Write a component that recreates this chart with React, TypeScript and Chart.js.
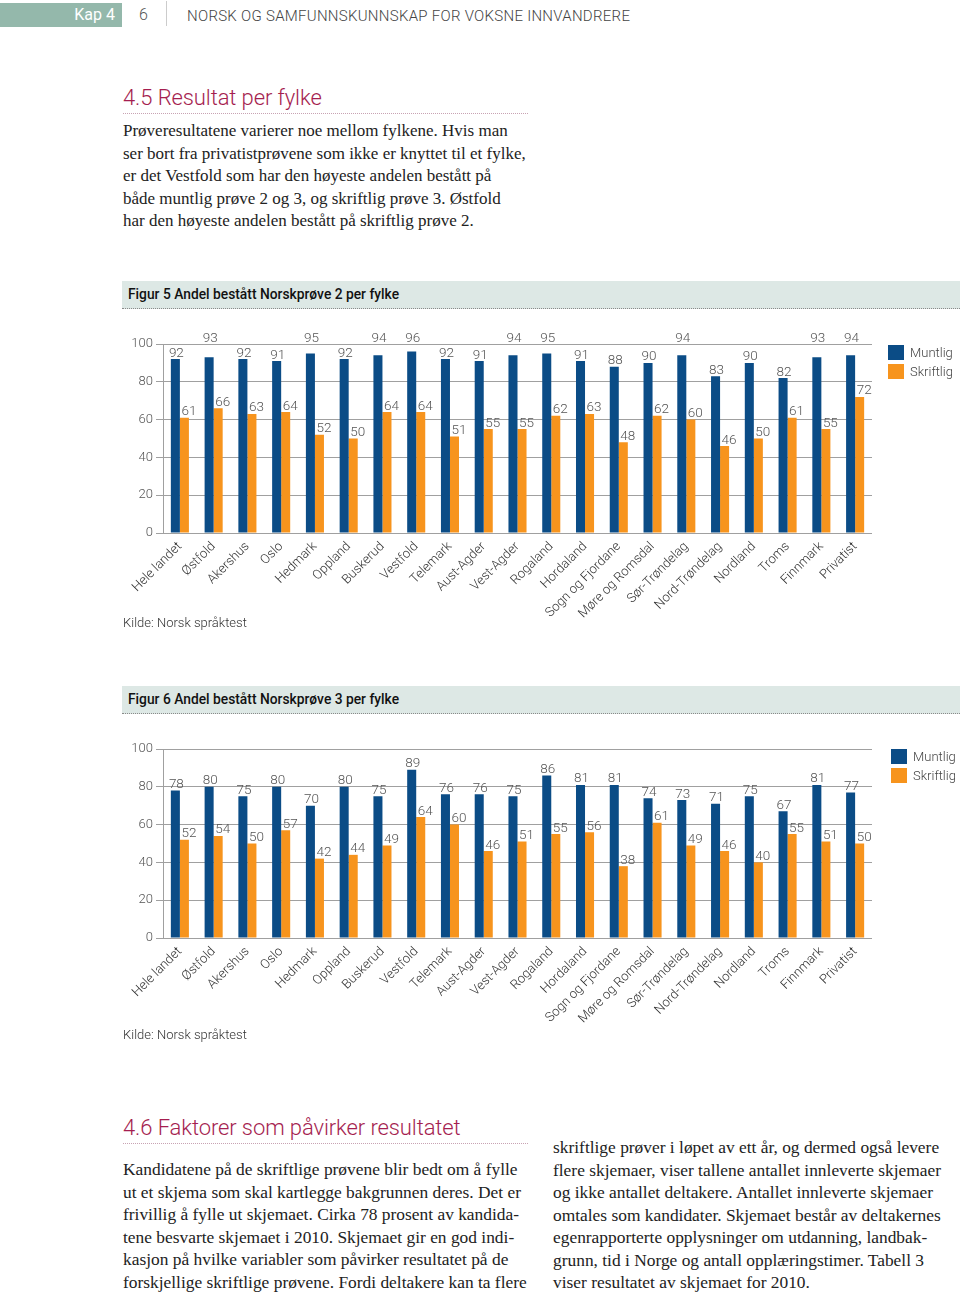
import React, { useEffect, useRef } from "react";
import { Chart, registerables } from "chart.js";

Chart.register(...registerables);

const categories = [
  "Hele landet", "Østfold", "Akershus", "Oslo", "Hedmark", "Oppland", "Buskerud",
  "Vestfold", "Telemark", "Aust-Agder", "Vest-Agder", "Rogaland", "Hordaland",
  "Sogn og Fjordane", "Møre og Romsdal", "Sør-Trøndelag", "Nord-Trøndelag",
  "Nordland", "Troms", "Finnmark", "Privatist",
];

const fig5Muntlig = [92, 93, 92, 91, 95, 92, 94, 96, 92, 91, 94, 95, 91, 88, 90, 94, 83, 90, 82, 93, 94];
const fig5Skriftlig = [61, 66, 63, 64, 52, 50, 64, 64, 51, 55, 55, 62, 63, 48, 62, 60, 46, 50, 61, 55, 72];

const fig6Muntlig = [78, 80, 75, 80, 70, 80, 75, 89, 76, 76, 75, 86, 81, 81, 74, 73, 71, 75, 67, 81, 77];
const fig6Skriftlig = [52, 54, 50, 57, 42, 44, 49, 64, 60, 46, 51, 55, 56, 38, 61, 49, 46, 40, 55, 51, 50];

const seriesNames = ["Muntlig", "Skriftlig"];

const BLUE = "#0b4c86";
const ORANGE = "#f7941d";
const SANS = "Roboto, 'Open Sans', sans-serif";
const SERIF = "'Liberation Serif', 'DejaVu Serif', serif";

const valueLabelPlugin = {
  id: "valueLabels",
  afterDatasetsDraw(chart: any) {
    const ctx = chart.ctx;
    const yScale = chart.scales.y;
    const yTop = yScale.getPixelForValue(100);
    ctx.save();
    ctx.font = "300 13.5px Roboto";
    ctx.fillStyle = "#555";
    ctx.textAlign = "center";
    ctx.textBaseline = "alphabetic";
    chart.data.datasets.forEach((ds: any, di: number) => {
      const meta = chart.getDatasetMeta(di);
      meta.data.forEach((el: any, i: number) => {
        const v = ds.data[i];
        let y = el.y - 2.5;
        if (y - 9.3 < yTop + 2) y = yTop - 2.5;
        const x = el.x + (di === 1 ? 4.5 : 1);
        ctx.fillText(String(v), x, y);
      });
    });
    ctx.restore();
  },
};

function BarChart({ muntlig, skriftlig }: { muntlig: number[]; skriftlig: number[] }) {
  const ref = useRef<HTMLCanvasElement | null>(null);
  useEffect(() => {
    if (!ref.current) return;
    const chart = new Chart(ref.current, {
      type: "bar",
      data: {
        labels: categories,
        datasets: [
          { label: seriesNames[0], data: muntlig, backgroundColor: BLUE, categoryPercentage: 0.535, barPercentage: 1 },
          { label: seriesNames[1], data: skriftlig, backgroundColor: ORANGE, categoryPercentage: 0.535, barPercentage: 1 },
        ],
      },
      options: {
        animation: false,
        responsive: false,
        maintainAspectRatio: false,
        devicePixelRatio: 1,
        layout: { padding: { top: 26, right: 88, left: 0, bottom: 0 } },
        plugins: { legend: { display: false }, tooltip: { enabled: false } },
        scales: {
          x: {
            grid: { display: false, drawTicks: false },
            border: { display: false },
            ticks: {
              minRotation: 45,
              maxRotation: 45,
              autoSkip: false,
              padding: 6,
              color: "#333",
              font: { family: "Roboto", size: 13, weight: "300" as any },
            },
            afterFit(s: any) { s.height = 95; },
          },
          y: {
            min: 0,
            max: 100,
            ticks: { stepSize: 20, padding: 3, color: "#555", font: { family: "Roboto", size: 13, weight: "300" as any } },
            grid: { color: "#a0a0a0", tickLength: 7, lineWidth: 1 },
            border: { display: true, color: "#a0a0a0" },
            afterFit(s: any) { s.width = 43; },
          },
        },
      },
      plugins: [valueLabelPlugin],
    });
    return () => chart.destroy();
  }, [muntlig, skriftlig]);
  return <canvas ref={ref} width={840} height={310} style={{ display: "block", width: 840, height: 310 }} />;
}

function Legend({ top, left }: { top: number; left: number }) {
  const item = (color: string, label: string, t: number) => (
    <div style={{ position: "absolute", left: 0, top: t, height: 16, display: "flex", alignItems: "center" }}>
      <div style={{ width: 16, height: 15, background: color }} />
      <span style={{ marginLeft: 6, fontFamily: SANS, fontWeight: 300, fontSize: 13, color: "#444" }}>{label}</span>
    </div>
  );
  return (
    <div style={{ position: "absolute", top, left, width: 70, height: 40 }}>
      {item(BLUE, seriesNames[0], 0)}
      {item(ORANGE, seriesNames[1], 19.5)}
    </div>
  );
}

function Lines({ lines, left, top, lh, size }: { lines: string[]; left: number; top: number; lh: number; size: number }) {
  return (
    <div style={{ position: "absolute", left, top, fontFamily: SERIF, fontSize: size, lineHeight: `${lh}px`, color: "#222", whiteSpace: "nowrap" }}>
      {lines.map((l, i) => (
        <div key={i}>{l}</div>
      ))}
    </div>
  );
}

const para1 = [
  "Prøveresultatene varierer noe mellom fylkene. Hvis man",
  "ser bort fra privatistprøvene som ikke er knyttet til et fylke,",
  "er det Vestfold som har den høyeste andelen bestått på",
  "både muntlig prøve 2 og 3, og skriftlig prøve 3. Østfold",
  "har den høyeste andelen bestått på skriftlig prøve 2.",
];
const leftCol = [
  "Kandidatene på de skriftlige prøvene blir bedt om å fylle",
  "ut et skjema som skal kartlegge bakgrunnen deres. Det er",
  "frivillig å fylle ut skjemaet. Cirka 78 prosent av kandida-",
  "tene besvarte skjemaet i 2010. Skjemaet gir en god indi-",
  "kasjon på hvilke variabler som påvirker resultatet på de",
  "forskjellige skriftlige prøvene. Fordi deltakere kan ta flere",
];
const rightCol = [
  "skriftlige prøver i løpet av ett år, og dermed også levere",
  "flere skjemaer, viser tallene antallet innleverte skjemaer",
  "og ikke antallet deltakere. Antallet innleverte skjemaer",
  "omtales som kandidater. Skjemaet består av deltakernes",
  "egenrapporterte opplysninger om utdanning, landbak-",
  "grunn, tid i Norge og antall opplæringstimer. Tabell 3",
  "viser resultatet av skjemaet for 2010.",
];

function Band({ top, text }: { top: number; text: string }) {
  return (
    <div style={{ position: "absolute", left: 122, top, width: 838, height: 27, background: "#dde8e5", borderBottom: "1px dotted #8a8a8a" }}>
      <div style={{ position: "absolute", left: 6, top: 0, lineHeight: "27px", fontFamily: SANS, fontSize: 13.8, fontWeight: 500, color: "#111", whiteSpace: "nowrap" }}>{text}</div>
    </div>
  );
}

function Heading({ top, text }: { top: number; text: string }) {
  return (
    <div style={{ position: "absolute", left: 123, top, width: 405, height: 28, borderBottom: "1px dotted #c8a3b3" }}>
      <div style={{ fontFamily: SANS, fontWeight: 300, fontSize: 22, color: "#a51e50", lineHeight: "26px", whiteSpace: "nowrap", letterSpacing: -0.1 }}>{text}</div>
    </div>
  );
}

export default function App() {
  return (
    <div style={{ position: "absolute", left: 0, top: 0, width: 960, height: 1293, background: "#fff", overflow: "hidden" }}>
      <div style={{ position: "absolute", left: 0, top: 3, width: 122, height: 24, background: "#94b8ab" }}>
        <div style={{ position: "absolute", right: 7, top: 0, lineHeight: "24px", fontFamily: SANS, fontSize: 16, color: "#fff" }}>Kap 4</div>
      </div>
      <div style={{ position: "absolute", left: 139, top: 3, lineHeight: "24px", fontFamily: SANS, fontWeight: 300, fontSize: 16, color: "#555" }}>6</div>
      <div style={{ position: "absolute", left: 166, top: 1, width: 1, height: 25, background: "#ccc" }} />
      <div style={{ position: "absolute", left: 187, top: 4, lineHeight: "24px", fontFamily: SANS, fontWeight: 300, fontSize: 15, letterSpacing: 0.28, color: "#444", whiteSpace: "nowrap" }}>
        NORSK OG SAMFUNNSKUNNSKAP FOR VOKSNE INNVANDRERE
      </div>

      <Heading top={85} text="4.5 Resultat per fylke" />
      <Lines lines={para1} left={123} top={120} lh={22.6} size={17} />

      <Band top={281} text="Figur 5 Andel bestått Norskprøve 2 per fylke" />
      <div style={{ position: "absolute", left: 120, top: 318 }}>
        <BarChart muntlig={fig5Muntlig} skriftlig={fig5Skriftlig} />
      </div>
      <Legend top={344} left={888} />
      <div style={{ position: "absolute", left: 123, top: 615, fontFamily: SANS, fontWeight: 300, fontSize: 13, color: "#333", whiteSpace: "nowrap" }}>Kilde: Norsk språktest</div>

      <Band top={686} text="Figur 6 Andel bestått Norskprøve 3 per fylke" />
      <div style={{ position: "absolute", left: 120, top: 723 }}>
        <BarChart muntlig={fig6Muntlig} skriftlig={fig6Skriftlig} />
      </div>
      <Legend top={748} left={891} />
      <div style={{ position: "absolute", left: 123, top: 1027, fontFamily: SANS, fontWeight: 300, fontSize: 13, color: "#333", whiteSpace: "nowrap" }}>Kilde: Norsk språktest</div>

      <Heading top={1115} text="4.6 Faktorer som påvirker resultatet" />
      <Lines lines={leftCol} left={123} top={1158} lh={22.5} size={17.4} />
      <Lines lines={rightCol} left={553} top={1136} lh={22.5} size={17.4} />
    </div>
  );
}
